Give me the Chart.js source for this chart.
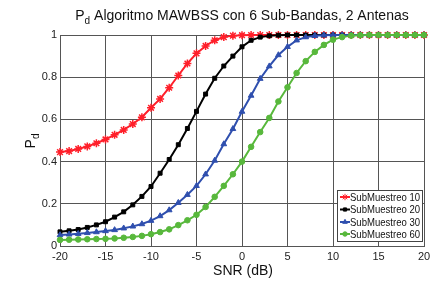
<!DOCTYPE html>
<html><head><meta charset="utf-8">
<script src="https://cdn.jsdelivr.net/npm/chart.js@4/dist/chart.umd.min.js"></script>
<style>html,body{margin:0;padding:0;background:#fff}#c{display:block}</style>
</head><body>
<canvas id="c" width="438" height="282"></canvas>
<script>
const snr = [];
for (let v = -20; v <= 20; v++) snr.push(v);
const xTicks = [-20, -15, -10, -5, 0, 5, 10, 15, 20];
const yTicks = [0, 0.2, 0.4, 0.6, 0.8, 1];
const seriesNames = ['SubMuestreo 10', 'SubMuestreo 20', 'SubMuestreo 30', 'SubMuestreo 60'];
const sub10 = [0.445,0.45,0.46,0.472,0.487,0.505,0.527,0.55,0.578,0.61,0.655,0.697,0.75,0.808,0.865,0.913,0.948,0.975,0.99,0.997,0.999,1,1,1,1,1,1,1,1,1,1,1,1,1,1,1,1,1,1,1,1];
const sub20 = [0.067,0.072,0.078,0.088,0.1,0.115,0.137,0.162,0.195,0.235,0.282,0.345,0.41,0.48,0.557,0.638,0.72,0.795,0.853,0.9,0.944,0.975,0.99,0.996,0.999,1,1,1,1,1,1,1,1,1,1,1,1,1,1,1,1];
const sub30 = [0.052,0.055,0.058,0.062,0.066,0.071,0.076,0.084,0.093,0.104,0.12,0.142,0.17,0.205,0.243,0.285,0.34,0.405,0.483,0.555,0.637,0.713,0.793,0.852,0.905,0.944,0.975,0.99,0.996,0.999,1,1,1,1,1,1,1,1,1,1,1];
const sub60 = [0.029,0.03,0.031,0.032,0.033,0.034,0.036,0.039,0.043,0.048,0.056,0.066,0.079,0.099,0.122,0.148,0.185,0.233,0.285,0.34,0.4,0.47,0.54,0.607,0.685,0.752,0.82,0.876,0.92,0.953,0.978,0.99,0.997,0.999,1,1,1,1,1,1,1];

const colors = ['#ff1f2a', '#000000', '#2f4fae', '#58b83c'];
const styles = ['star', 'rect', 'triangle', 'circle'];
const radii = [4, 2.8, 3.3, 2.8];
const values = [sub10, sub20, sub30, sub60];

const datasets = values.map((vals, i) => ({
  label: seriesNames[i],
  data: vals.map((y, k) => ({x: snr[k], y})),
  borderColor: colors[i],
  backgroundColor: colors[i],
  borderWidth: 2,
  pointStyle: styles[i],
  pointRadius: radii[i],
  pointBorderWidth: i === 0 ? 1.5 : 1,
  pointBorderColor: colors[i],
  pointBackgroundColor: colors[i],
  tension: 0,
  clip: false,
  order: 4 - i
}));

const FONT = '"Liberation Sans", Arial, sans-serif';

const textPlugin = {
  id: 'texts',
  afterDraw(chart) {
    const ctx = chart.ctx;
    ctx.save();
    ctx.fillStyle = '#111';
    ctx.font = '14px ' + FONT;
    const rest = ' Algoritmo MAWBSS con 6 Sub-Bandas, 2 Antenas';
    const wP = ctx.measureText('P').width;
    ctx.font = '10px ' + FONT;
    const wd = ctx.measureText('d').width;
    ctx.font = '14px ' + FONT;
    const wr = ctx.measureText(rest).width;
    const total = wP + wd + wr;
    let x0 = 242 - total / 2;
    ctx.textBaseline = 'alphabetic';
    ctx.textAlign = 'left';
    ctx.fillText('P', x0, 20);
    ctx.font = '10px ' + FONT;
    ctx.fillText('d', x0 + wP, 24);
    ctx.font = '14px ' + FONT;
    ctx.fillText(rest, x0 + wP + wd, 20);
    ctx.textAlign = 'center';
    ctx.fillText('SNR (dB)', 243, 275);
    ctx.translate(35, 141);
    ctx.rotate(-Math.PI / 2);
    ctx.textAlign = 'left';
    ctx.font = '14px ' + FONT;
    const pW = ctx.measureText('P').width;
    ctx.font = '10px ' + FONT;
    const dW = ctx.measureText('d').width;
    const st = -(pW + dW) / 2;
    ctx.font = '14px ' + FONT;
    ctx.fillText('P', st, 0);
    ctx.font = '10px ' + FONT;
    ctx.fillText('d', st + pW, 4);
    ctx.restore();

    // legend
    ctx.save();
    const lx = 337.5, ly = 190.5, lw = 85, lh = 51;
    ctx.fillStyle = '#fff';
    ctx.fillRect(lx, ly, lw, lh);
    ctx.strokeStyle = '#444';
    ctx.lineWidth = 1;
    ctx.strokeRect(lx, ly, lw, lh);
    const rows = [197, 209.5, 222, 234];
    ctx.font = '11px ' + FONT;
    ctx.textBaseline = 'middle';
    ctx.textAlign = 'left';
    chart.data.datasets.forEach((ds, i) => {
      const y = rows[i];
      ctx.strokeStyle = ds.borderColor;
      ctx.lineWidth = 2;
      ctx.beginPath();
      ctx.moveTo(340, y);
      ctx.lineTo(350, y);
      ctx.stroke();
      ctx.fillStyle = ds.borderColor;
      ctx.strokeStyle = ds.borderColor;
      ctx.lineWidth = 1;
      Chart.helpers.drawPoint(ctx, {pointStyle: ds.pointStyle, radius: ds.pointRadius * 0.8, borderWidth: 1, rotation: 0}, 345, y);
      ctx.fillStyle = '#111';
      const w = ctx.measureText(ds.label).width;
      ctx.save();
      ctx.translate(350, y + 0.5);
      ctx.scale(70 / w, 1);
      ctx.fillText(ds.label, 0, 0);
      ctx.restore();
    });
    ctx.restore();
  }
};

new Chart(document.getElementById('c'), {
  type: 'line',
  data: { datasets },
  options: {
    responsive: false,
    animation: false,
    layout: { padding: { top: 35, right: 14, left: 0, bottom: 0 } },
    plugins: { legend: { display: false }, title: { display: false }, tooltip: { enabled: false } },
    scales: {
      x: {
        type: 'linear', min: -20, max: 20,
        afterFit: s => { s.height = 36; },
        afterBuildTicks: s => { s.ticks = xTicks.map(v => ({value: v})); },
        grid: { color: '#555', lineWidth: 1, drawTicks: false },
        border: { color: '#555' },
        ticks: { padding: 4, color: '#222', font: { size: 11, family: FONT }, maxRotation: 0, callback: v => String(v) }
      },
      y: {
        type: 'linear', min: 0, max: 1,
        afterFit: s => { s.width = 60; },
        afterBuildTicks: s => { s.ticks = yTicks.map(v => ({value: v})); },
        grid: { color: '#555', lineWidth: 1, drawTicks: false },
        border: { color: '#555' },
        ticks: { padding: 3, color: '#222', font: { size: 11, family: FONT }, callback: v => String(v) }
      }
    }
  },
  plugins: [textPlugin]
});
</script>
</body></html>
